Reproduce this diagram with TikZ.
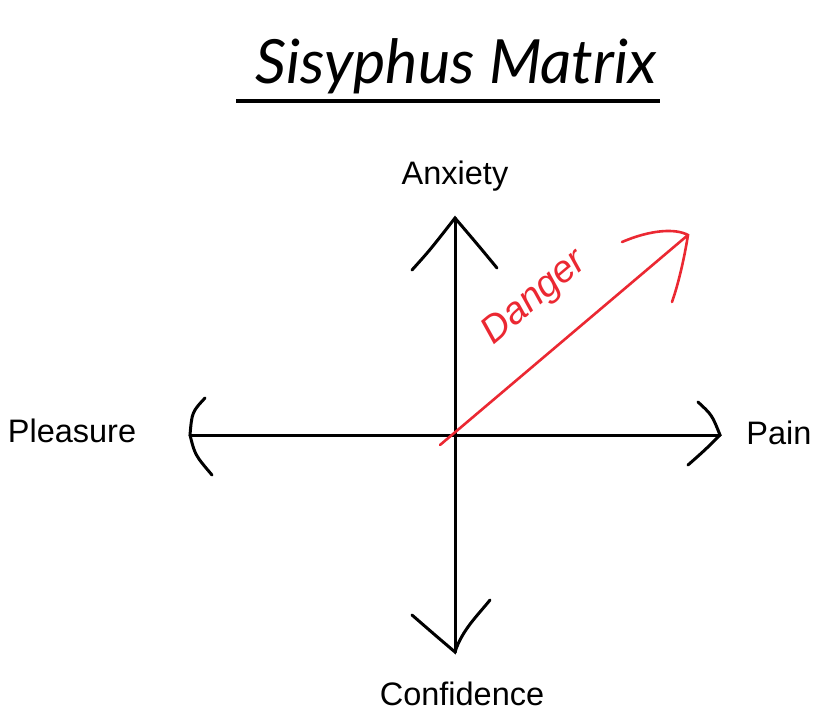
\documentclass[tikz,border=0pt]{standalone}
\usepackage{fontspec}
\setmainfont{Liberation Sans}
\newfontfamily\titlefont{Lato}
\definecolor{dred}{RGB}{235,40,50}
\begin{document}
\begin{tikzpicture}[x=1pt,y=-1pt,
  ax/.style={line width=3pt,line cap=round},
  lbl/.style={font=\fontsize{32.5}{36}\selectfont,inner sep=0pt},
  rd/.style={dred,line width=2.6pt,line cap=round}]
\useasboundingbox (0,0) rectangle (820,724);
\node[font=\titlefont\itshape\fontsize{61}{66}\selectfont,inner sep=0pt] (title) at (456,66) {Sisyphus Matrix};
\draw[line width=3.5pt] (236,101) -- (660,101);
\coordinate (t) at (455,218);
\coordinate (b) at (455,652);
\coordinate (l) at (190,435);
\coordinate (r) at (720,435);
\draw[ax] (l) -- (r);
\draw[ax] (t) -- (b);
\draw[ax] (412,270) .. controls (430,250) .. (t) .. controls (478,245) .. (497,268);
\draw[ax] (412,615) .. controls (435,635) .. (b) .. controls (462,630) and (478,615) .. (490,600);
\draw[ax] (205,398) .. controls (192,412) .. (l) .. controls (195,455) .. (212,475);
\draw[ax] (698,402) .. controls (712,415) .. (r) .. controls (705,450) .. (688,465);
\node[lbl] (anx) at (455,176) {Anxiety};
\node[lbl] (conf) at (462,694) {Confidence};
\node[lbl] (plea) at (72,431) {Pleasure};
\node[lbl] (pain) at (779,433) {Pain};
\coordinate (rs) at (440,445);
\coordinate (re) at (688,235);
\draw[rd] (rs) -- (re);
\draw[rd] (622,242) .. controls (650,230) and (675,228) .. (re) .. controls (684,260) and (678,285) .. (672,302);
\node[dred,font=\itshape\fontsize{38}{42}\selectfont,rotate=40,inner sep=0pt] (dg) at (535,298) {Danger};
\end{tikzpicture}
\end{document}
